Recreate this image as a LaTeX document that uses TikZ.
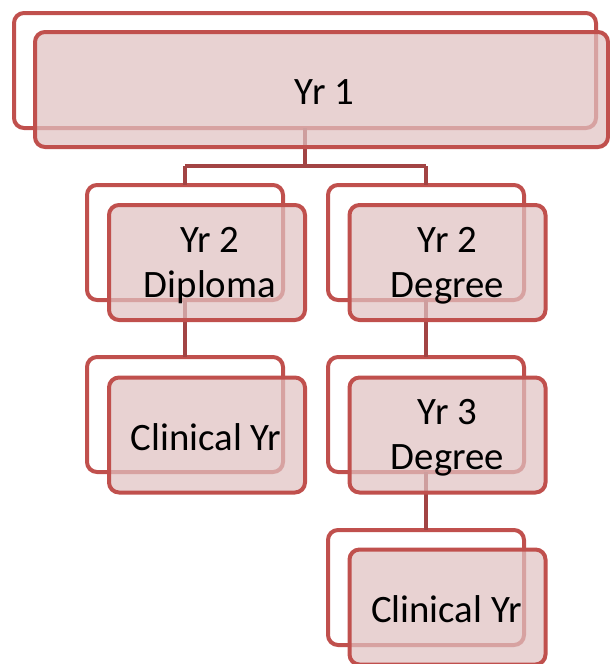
\documentclass[tikz,border=0pt]{standalone}
\usepackage{fontspec}
\setmainfont{Carlito}
\definecolor{boxred}{HTML}{C0504D}
\definecolor{linkred}{HTML}{A24444}
\definecolor{boxfill}{HTML}{E0C2C2}
\tikzset{
  backbox/.style={draw=boxred, line width=4pt, fill=white, rounded corners=10pt,
    minimum width=196pt, minimum height=115pt, inner sep=0pt, outer sep=0pt},
  frontbox/.style={draw=boxred, line width=4pt, fill=boxfill, fill opacity=0.72,
    rounded corners=10pt,
    minimum width=196pt, minimum height=115pt, inner sep=0pt, outer sep=0pt},
  boxtext/.style={align=center, inner sep=0pt, text=black,
    font=\fontsize{38.8pt}{45pt}\selectfont},
  link/.style={draw=linkred, line width=4.5pt}
}
\begin{document}
\begin{tikzpicture}[x=1pt,y=-1pt]
\useasboundingbox (0,0) rectangle (610,664);
\clip (0,0) rectangle (610,664);
% back boxes
\node[backbox, minimum width=582pt] (tb) at (305,70.5) {};
\node[backbox] (lb2) at (185,242.5) {};
\node[backbox] (lb3) at (185,414.5) {};
\node[backbox] (rb2) at (426,242.5) {};
\node[backbox] (rb3) at (426,414.5) {};
\node[backbox] (rb4) at (426,587.5) {};
% connectors
\coordinate (j) at (305,166);
\draw[link] (tb.south) -- (j);
\draw[link] (j -| lb2.north) -- (j -| rb2.north);
\draw[link] (j -| lb2.north) -- (lb2.north);
\draw[link] (j -| rb2.north) -- (rb2.north);
\draw[link] (lb2.south) -- (lb3.north);
\draw[link] (rb2.south) -- (rb3.north);
\draw[link] (rb3.south) -- (rb4.north);
% front boxes
\node[frontbox, minimum width=573pt] (tf) at (321.5,89.5) {};
\node[frontbox] (lf2) at (207,262.5) {};
\node[frontbox] (lf3) at (207,435) {};
\node[frontbox] (rf2) at (447.5,262.5) {};
\node[frontbox] (rf3) at (447.5,435) {};
\node[frontbox] (rf4) at (447.5,607) {};
% texts
\node[boxtext] (t1) at ([xshift=3pt,yshift=-3pt]tf.center) {Yr 1};
\node[boxtext] (t2) at ([xshift=3pt,yshift=-3pt]lf2.center) {Yr 2\\Diploma};
\node[boxtext] (t3) at ([xshift=-1pt,yshift=-2pt]lf3.center) {Clinical Yr};
\node[boxtext] (t4) at ([yshift=-3pt]rf2.center) {Yr 2\\Degree};
\node[boxtext] (t5) at ([yshift=-3pt]rf3.center) {Yr 3\\Degree};
\node[boxtext] (t6) at ([xshift=-1pt,yshift=-2pt]rf4.center) {Clinical Yr};
\end{tikzpicture}
\end{document}
